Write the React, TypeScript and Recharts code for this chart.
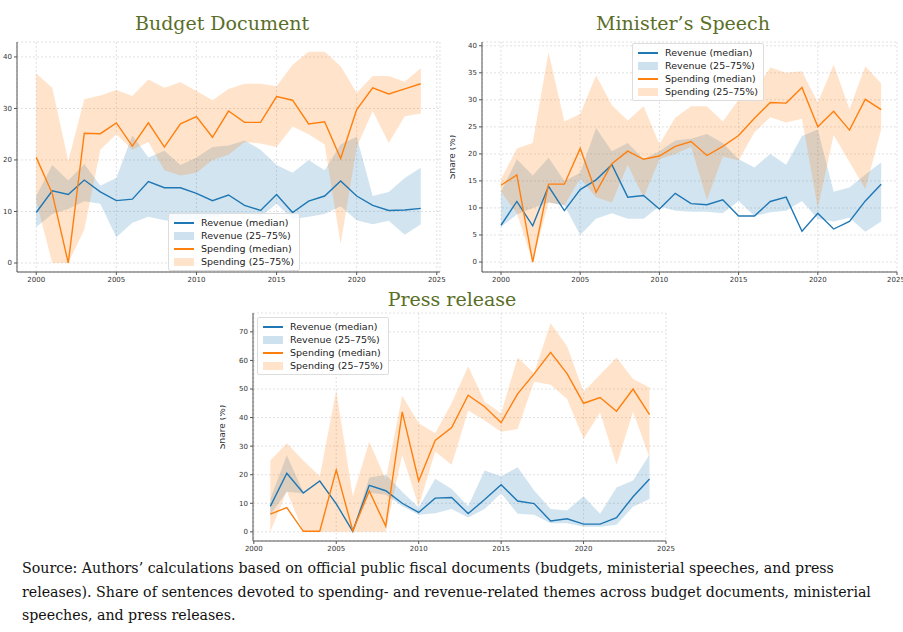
import React from "react";
import { ComposedChart, Area, Line, XAxis, YAxis, CartesianGrid } from "recharts";

const years = [2000,2001,2002,2003,2004,2005,2006,2007,2008,2009,2010,2011,2012,2013,2014,2015,2016,2017,2018,2019,2020,2021,2022,2023,2024];
const pressYears = years.slice(1);

const bdRevMed = [9.8,14,13.3,16.1,13.8,12.1,12.4,15.8,14.6,14.6,13.5,12.1,13.2,11.2,10.2,13.3,9.8,12,13,15.9,13,11.2,10.2,10.3,10.6];
const bdRevLo = [7,9.5,10.5,12,11.5,5,7.8,9,8.3,8,8.5,9,9.5,9.5,9,11.5,8.5,9,9.5,11,8.3,7.5,8.2,5.5,7.5];
const bdRevHi = [13,19,16,19.2,15,16.5,24.8,20.5,21.8,19,20.5,22.5,22.8,23.8,22,19,17.5,20,18,23,24.5,13,13.8,16.5,18.5];
const bdSpMed = [20.5,13.5,0,25.2,25.1,27.2,22.7,27.2,22.5,27,28.4,24.4,29.5,27.3,27.3,32.3,31.6,27,27.4,20.3,29.8,34,32.8,33.8,34.8];
const bdSpLo = [12,0,0,6.5,22,25,22,23.5,18,17,17.5,20,21,23.5,23.2,22.5,26.5,25,23,3.7,22.5,29.5,23.3,28.5,29];
const bdSpHi = [36.8,34,19.8,31.8,32.5,33.6,32.4,35.6,34,35.1,33.4,31.6,33.8,34.8,34.8,34.3,38.5,41,41,38.2,33,36.3,36.3,35.2,37.8];

const msRevMed = [6.8,11.2,6.7,14,9.5,13.4,15.2,18,12,12.3,9.8,12.7,10.8,10.6,11.5,8.5,8.5,11.2,12,5.7,9,6.1,7.5,11.3,14.4];
const msRevLo = [6.5,8.8,10,11,10.5,5,8,9,8,8,10.3,9.5,9.3,9.3,9,11.3,8.5,9.2,9.5,11.3,8,7.5,8.2,5.6,7.5];
const msRevHi = [13,19,16,19.3,15,16.5,24.8,20.5,22,19,20.5,22.5,22.8,23.7,22,19,17.5,20,18,23.3,24.5,13,13.8,16.2,18.4];
const msSpMed = [14.2,16.1,0,14.4,14.4,21,12.9,18.2,20.5,19,19.6,21.4,22.3,19.7,21.4,23.4,26.6,29.5,29.4,32.3,25,27.9,24.4,30.1,28.2];
const msSpLo = [13,9,0,11,10.5,15.5,12,11,18,12,19,20,21.3,11.5,19.5,18.8,24,26.8,25.8,26.5,10,23.5,18.5,13.5,24.5];
const msSpHi = [15.3,21,22,38.8,26,27.4,34.5,29,26.2,28.8,21.8,26.7,28.8,28.8,26,30,31.5,36,35,35.3,29.5,36.5,28.3,36.2,33];

const prRevMed = [8.9,20.5,13.6,17.8,9.8,0.2,16.3,14.4,10,6.8,11.8,12,6.4,11.3,16.5,10.8,9.9,3.8,4.6,2.7,2.7,5,12.3,18.5];
const prRevLo = [6,14,13.5,17.8,9.8,0,13.7,13,9,6,6.5,8,5,8,13.5,6.3,6,3,3,1.8,1.8,2.5,8.8,11.5];
const prRevHi = [11.5,26.8,14,17.8,9.8,0.5,19,20,14,8.5,18.6,15,9,21.5,19.5,22.6,14.5,8,7.5,12.5,6.3,15.5,18,27];
const prSpMed = [6.2,8.5,0.2,0.2,21.7,0.4,14.3,2,42,17.8,32,36.5,47.8,43.8,38.2,48.3,55.3,62.8,55.4,45,47,42.2,50,41];
const prSpLo = [0,14.3,0,0,0,0,0,0,27,9,28,23.5,42.5,39,35,36,52.5,51.5,46.5,32.5,41.8,23.5,42,26];
const prSpHi = [25,31,25,19.5,49.5,12.5,31.5,18.3,47.6,38,34.5,45,58,45.5,41.5,61,55.5,73,65,49,55,61,53.5,50.5];

const xTicks = [2000,2005,2010,2015,2020,2025];
const legendLabels = ["Revenue (median)","Revenue (25–75%)","Spending (median)","Spending (25–75%)"];
const BLUE = "#1f77b4", ORANGE = "#ff7f0e";

function build(ys: number[], rm: number[], rl: number[], rh: number[], sm: number[], sl: number[], sh: number[]) {
  return ys.map((y, i) => ({ year: y, rm: rm[i], rb: [rl[i], rh[i]], sm: sm[i], sb: [sl[i], sh[i]] }));
}

const LegendBox = ({ pos }: { pos: { left: number; top: number } }) => (
  <div style={{ position: "absolute", left: pos.left, top: pos.top, background: "rgba(255,255,255,0.85)", border: "1px solid #ddd", borderRadius: 2, padding: "2px 5px", fontFamily: "DejaVu Sans", fontSize: 9.5, color: "#222", whiteSpace: "nowrap" }}>
    {legendLabels.map((l, i) => (
      <div key={l} style={{ display: "flex", alignItems: "center", height: 13 }}>
        {i % 2 === 0 ? (
          <div style={{ width: 20, height: 2, background: i === 0 ? BLUE : ORANGE, marginRight: 7 }} />
        ) : (
          <div style={{ width: 20, height: 8, background: i === 1 ? BLUE : ORANGE, opacity: 0.22, marginRight: 7 }} />
        )}
        {l}
      </div>
    ))}
  </div>
);

type PanelProps = {
  data: any[]; left: number; top: number; width: number; height: number;
  margin: any; yWidth: number; xDomain: number[]; yDomain: number[]; yTicks: number[];
  legend: { left: number; top: number }; showLabel: boolean;
};

const Panel = (p: PanelProps) => (
  <div style={{ position: "absolute", left: p.left, top: p.top, width: p.width, height: p.height, fontFamily: "DejaVu Sans" }}>
    <ComposedChart width={p.width} height={p.height} data={p.data} margin={p.margin} style={{ fontFamily: "DejaVu Sans" }}>
      <CartesianGrid stroke="#ccc" strokeDasharray="2 2" strokeWidth={0.6} />
      <XAxis dataKey="year" type="number" domain={p.xDomain} ticks={xTicks} allowDataOverflow height={20}
        tick={{ fontSize: 7, fill: "#333" }} tickSize={3} stroke="#555" />
      <XAxis xAxisId="top" orientation="top" dataKey="year" type="number" domain={p.xDomain} height={0} tick={false} tickLine={false} stroke="#555" />
      <YAxis type="number" domain={p.yDomain} ticks={p.yTicks} allowDataOverflow width={p.yWidth}
        tick={{ fontSize: 7, fill: "#333" }} tickSize={3} stroke="#555"
        label={p.showLabel ? { value: "Share (%)", angle: -90, position: "insideLeft", offset: 2, style: { fontSize: 9, fill: "#333", textAnchor: "middle", fontFamily: "DejaVu Sans" } } : undefined} />
      <YAxis yAxisId="right" orientation="right" domain={p.yDomain} width={0} tick={false} tickLine={false} stroke="#555" />
      <Area dataKey="rb" stroke="none" fill={BLUE} fillOpacity={0.2} isAnimationActive={false} />
      <Area dataKey="sb" stroke="none" fill={ORANGE} fillOpacity={0.22} isAnimationActive={false} />
      <Line dataKey="rm" stroke={BLUE} strokeWidth={1.4} dot={false} isAnimationActive={false} />
      <Line dataKey="sm" stroke={ORANGE} strokeWidth={1.4} dot={false} isAnimationActive={false} />
    </ComposedChart>
    <LegendBox pos={p.legend} />
  </div>
);

const titleStyle: React.CSSProperties = { position: "absolute", fontFamily: "DejaVu Serif, serif", fontSize: 19, color: "#5a6e28", transform: "translateX(-50%)", whiteSpace: "nowrap" };

export default function App() {
  return (
    <div style={{ position: "absolute", left: 0, top: 0, width: 903, height: 632, background: "#fff", overflow: "hidden" }}>
      <div style={{ ...titleStyle, left: 222, top: 12 }}>Budget Document</div>
      <div style={{ ...titleStyle, left: 683, top: 12 }}>Minister’s Speech</div>
      <div style={{ ...titleStyle, left: 452, top: 288 }}>Press release</div>
      <Panel data={build(years, bdRevMed, bdRevLo, bdRevHi, bdSpMed, bdSpLo, bdSpHi)} left={0} top={30} width={450} height={270}
        margin={{ top: 12, right: 10, bottom: 8, left: 0 }} yWidth={17} xDomain={[1998.8, 2025.2]} yDomain={[-1.75, 42.9]} yTicks={[0,10,20,30,40]}
        legend={{ left: 168, top: 183 }} showLabel={false} />
      <Panel data={build(years, msRevMed, msRevLo, msRevHi, msSpMed, msSpLo, msSpHi)} left={450} top={30} width={453} height={270}
        margin={{ top: 12, right: 6, bottom: 8, left: 0 }} yWidth={32} xDomain={[1998.8, 2025]} yDomain={[-1.85, 40.7]} yTicks={[0,5,10,15,20,25,30,35,40]}
        legend={{ left: 182, top: 13 }} showLabel={true} />
      <Panel data={build(pressYears, prRevMed, prRevLo, prRevHi, prSpMed, prSpLo, prSpHi)} left={220} top={305} width={460} height={256}
        margin={{ top: 8, right: 14, bottom: 0, left: 0 }} yWidth={33} xDomain={[1999.95, 2025]} yDomain={[-3.2, 76.6]} yTicks={[0,10,20,30,40,50,60,70]}
        legend={{ left: 37, top: 12 }} showLabel={true} />
      <div style={{ position: "absolute", left: 22, top: 557, width: 872, fontFamily: "DejaVu Serif, serif", fontSize: 14.2, lineHeight: "23.5px", color: "#111" }}>
        Source: Authors’ calculations based on official public fiscal documents (budgets, ministerial speeches, and press releases). Share of sentences devoted to spending- and revenue-related themes across budget documents, ministerial speeches, and press releases.
      </div>
    </div>
  );
}
